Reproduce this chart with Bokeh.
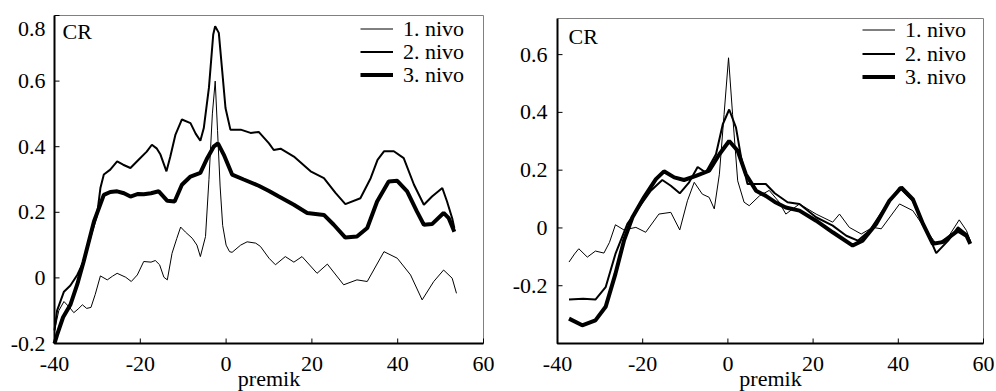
from bokeh.plotting import figure
from bokeh.layouts import row
from bokeh.models import Range1d, Legend, LegendItem, Label
from bokeh.embed import file_html
from bokeh.resources import INLINE

FONT = "Liberation Serif"
FS = "22px"

series_names = ["1. nivo", "2. nivo", "3. nivo"]
line_widths = [1, 2, 4]

x_ticks = [-40, -20, 0, 20, 40, 60]
left_y_ticks = [-0.2, 0, 0.2, 0.4, 0.6, 0.8]
right_y_ticks = [-0.2, 0, 0.2, 0.4, 0.6]
x_title = "premik"
panel_tag = "CR"

# ---------------- left panel data ----------------
left_x1 = [-40, -39, -37.8, -36.5, -35.5, -34.5, -33.5, -32.5, -31.5, -30.5, -29.3, -27.7, -26.5,
           -25.4, -23.4, -22.1, -20.7, -19.2, -17.5, -16.5, -15.5, -14.5, -13.7, -12.6, -11.5,
           -10.6, -9.5, -7.9, -6.8, -6.0, -4.8, -4.0, -3.2, -2.54, -2.0, -1.4, -0.8, 0.0, 0.8, 1.4,
           3.4, 4.9, 6.9, 8.0, 10, 11.5, 13.8, 15.8, 17.7, 21.2, 23.6, 27.4, 30.5, 32.9, 36.8,
           39.9, 43, 45.7, 48.4, 50.7, 52.7, 53.7]
left_y1 = [-0.16, -0.10, -0.072, -0.09, -0.106, -0.095, -0.082, -0.093, -0.09, -0.05, 0.006, -0.006, 0.005,
           0.014, 0.002, -0.011, 0.009, 0.05, 0.048, 0.053, 0.04, 0.002, -0.006, 0.075, 0.12,
           0.155, 0.14, 0.121, 0.10, 0.065, 0.126, 0.30, 0.50, 0.60, 0.45, 0.28, 0.16, 0.10, 0.08, 0.078,
           0.10, 0.11, 0.106, 0.096, 0.06, 0.04, 0.065, 0.048, 0.065, 0.014, 0.042, -0.021, -0.006, -0.011, 0.08,
           0.06, 0.009, -0.067, -0.011, 0.024, -0.001, -0.047]

left_x2 = [-40, -39.4, -37.8, -36.3, -34.7, -33.2, -31.5, -30.1, -29.3, -28.5, -27.0, -25.4, -24.0,
           -22.3, -20.4, -18.5, -17.3, -16.2, -15.3, -13.9, -13.0, -11.8, -10.3, -8.3, -7.1, -6.0,
           -5.2, -4.0, -3.0, -2.55, -1.7, -0.9, -0.14, 1.0, 3.4, 5.7, 7.6, 10, 11.1, 12.7, 15.8,
           19.7, 22.8, 25.5, 27.8, 31.3, 33.7, 35.3, 36.8, 39.1, 41.4, 43.8, 46.1, 48.0, 50.4,
           51.5, 52.7, 53.2]
left_y2 = [-0.16, -0.10, -0.042, -0.023, 0.009, 0.05, 0.13, 0.19, 0.274, 0.315, 0.33, 0.355, 0.345,
           0.335, 0.36, 0.385, 0.406, 0.395, 0.376, 0.325, 0.37, 0.437, 0.483, 0.472, 0.44, 0.418,
           0.457, 0.58, 0.742, 0.767, 0.747, 0.63, 0.518, 0.452, 0.452, 0.442, 0.445, 0.41, 0.39, 0.394, 0.37,
           0.325, 0.304, 0.259, 0.225, 0.243, 0.304, 0.36, 0.386, 0.386, 0.365, 0.284, 0.223, 0.248, 0.274,
           0.233, 0.182, 0.152]

left_x3 = [-40, -39.4, -38.0, -36.3, -34.7, -33.2, -30.8, -28.5, -27.0, -25.4, -23.8, -22.3, -20.5,
           -19.2, -17.5, -15.7, -13.7, -12.0, -10.3, -8.3, -6.0, -4.4, -2.9, -1.9, -0.55, 1.4, 4.1,
           7.6, 10, 12.3, 15.8, 18.9, 22.8, 25.1, 27.8, 30.5, 32.9, 35.2, 37.9, 39.9, 42.2, 44.5,
           46.1, 48.0, 50.7, 51.9, 53.2]
left_y3 = [-0.2, -0.174, -0.12, -0.082, -0.02, 0.05, 0.172, 0.253, 0.262, 0.264, 0.258, 0.248, 0.256,
           0.255, 0.258, 0.264, 0.235, 0.233, 0.284, 0.309, 0.32, 0.365, 0.40, 0.41, 0.376, 0.315, 0.30,
           0.281, 0.265, 0.248, 0.223, 0.198, 0.192, 0.162, 0.123, 0.126, 0.152, 0.233, 0.294, 0.296, 0.264, 0.202,
           0.162, 0.164, 0.198, 0.182, 0.141]

# ---------------- right panel data ----------------
right_x1 = [-37.3, -36.0, -35.0, -33.0, -31.1, -29.1, -27.8, -26.4, -24.4, -21.6, -19.3, -16.2, -13.4,
            -11.3, -9.5, -7.9, -6.0, -4.4, -3.2, -2.0, -0.9, 0.15, 1.1, 2.3, 3.8, 5.0, 7.4, 9.7, 12,
            13.6, 16.8, 20.7, 24.6, 26.2, 28.5, 31.3, 34, 36, 40.3, 43.4, 46.6, 48.9, 51.7, 54.3,
            56, 56.9]
right_y1 = [-0.118, -0.09, -0.072, -0.101, -0.080, -0.087, -0.05, 0.011, -0.007, 0.002, -0.015, 0.048, 0.054,
            -0.007, 0.094, 0.158, 0.117, 0.106, 0.066, 0.186, 0.393, 0.589, 0.393, 0.163, 0.089, 0.077, 0.111, 0.13, 0.09,
            0.048, 0.083, 0.048, 0.02, 0.048, 0.002, -0.021, 0.002, -0.003, 0.083, 0.06, -0.009, -0.055, -0.032, 0.028,
            -0.009, -0.044]

right_x2 = [-37.3, -34, -31.1, -28.7, -26.4, -23.6, -20.9, -18.1, -15.4, -13.4, -11.3, -9.1, -7.1,
            -5.2, -2.8, -1.2, 0.3, 1.9, 3.1, 4.6, 7.4, 8.9, 11, 14, 16.8, 20.7, 24.6, 27.8, 30.5,
            33.3, 36.4, 40.3, 43.4, 46.6, 48.9, 51.7, 54, 56, 56.9]
right_y2 = [-0.248, -0.245, -0.248, -0.205, -0.09, 0.014, 0.071, 0.129, 0.166, 0.146, 0.12, 0.158, 0.211,
            0.192, 0.255, 0.359, 0.41, 0.347, 0.244, 0.152, 0.152, 0.152, 0.12, 0.089, 0.083, 0.037, 0.008, -0.027, -0.044,
            -0.009, 0.06, 0.14, 0.094, -0.009, -0.087, -0.044, 0.002, -0.021, -0.049]

right_x3 = [-37.3, -34.2, -31.1, -28.7, -26.4, -24.4, -22.4, -19.7, -16.9, -15.0, -12.6, -10.3, -7.5,
            -4.4, -2.0, 0.3, 2.3, 4.2, 6.6, 8.9, 11, 13.6, 16.8, 20.7, 24.6, 29.3, 31.6, 34.8, 37.9,
            40.7, 43.4, 45.8, 48.1, 50.4, 54, 56, 56.9]
right_y3 = [-0.314, -0.337, -0.32, -0.273, -0.159, -0.044, 0.037, 0.106, 0.169, 0.196, 0.175, 0.166, 0.18,
            0.198, 0.255, 0.301, 0.267, 0.186, 0.129, 0.111, 0.09, 0.071, 0.06, 0.025, -0.015, -0.061, -0.044, 0.014, 0.094,
            0.14, 0.1, 0.014, -0.055, -0.049, -0.009, -0.027, -0.055]


def fmt(v):
    return "%g" % v


def add_text(p, x, y, text, align, baseline, dx=0, dy=0):
    # dy: positive = upward (annotation convention)
    p.add_layout(Label(x=x, y=y, text=text, text_align=align, text_baseline=baseline,
                       x_offset=dx, y_offset=dy, text_font=FONT, text_font_size=FS,
                       text_color="black"))


def make_panel(xs, ys, xlim, ylim, yticks, width, height, box, legend_x, legend_rows,
               cr_off, ylab_gap, top_label_drop=0):
    # box = (left_px, right_px, top_px, bottom_px) of the plot box inside this figure
    bl, br, bt, bb = box
    xs_px = (br - bl) / (xlim[1] - xlim[0])
    ys_px = (bb - bt) / (ylim[1] - ylim[0])
    x_range = Range1d(xlim[0] - bl / xs_px, xlim[1] + (width - br) / xs_px)
    y_range = Range1d(ylim[0] - (height - bb) / ys_px, ylim[1] + bt / ys_px)

    p = figure(width=width, height=height, output_backend="svg", toolbar_location=None,
               x_range=x_range, y_range=y_range,
               min_border_left=0, min_border_right=0, min_border_top=0, min_border_bottom=0)
    p.xaxis.visible = False
    p.yaxis.visible = False
    p.grid.visible = False
    p.outline_line_color = None
    p.background_fill_color = "white"
    p.border_fill_color = "white"

    x0, x1 = xlim
    y0, y1 = ylim
    # plot box: light top/right frame, black left/bottom axes
    p.line([x0, x1, x1], [y1, y1, y0], line_color="#808080", line_width=1)
    p.line([x0, x0, x1], [y1, y0, y0], line_color="black", line_width=2)

    # inward ticks
    tick_len = 5
    p.segment(x0=x_ticks, y0=[y0] * len(x_ticks), x1=x_ticks,
              y1=[y0 + tick_len / ys_px] * len(x_ticks), line_color="black", line_width=1)
    p.segment(x0=[x0] * len(yticks), y0=yticks, x1=[x0 + tick_len / xs_px] * len(yticks),
              y1=yticks, line_color="black", line_width=1)

    # tick labels
    for t in x_ticks:
        add_text(p, t, y0, fmt(t), "center", "middle", dy=-20)
    for i, t in enumerate(yticks):
        drop = top_label_drop if (top_label_drop and i == len(yticks) - 1) else 0
        add_text(p, x0, t, fmt(t), "right", "middle", dx=-ylab_gap, dy=-drop)
    # axis title and panel tag
    add_text(p, (x0 + x1) / 2, y0, x_title, "center", "middle", dy=-35)
    add_text(p, x0, y1, panel_tag, "left", "top", dx=cr_off[0], dy=cr_off[1])

    row_h = 19  # effective height of one legend row
    for xv, yv, nm, lw, rc in zip(xs, ys, series_names, line_widths, legend_rows):
        r = p.line(xv, yv, line_color="black", line_width=lw)
        lg = Legend(items=[LegendItem(label=nm, renderers=[r])],
                    location=(legend_x, height - rc - row_h / 2))
        lg.border_line_color = None
        lg.background_fill_alpha = 0
        lg.label_text_font = FONT
        lg.label_text_font_size = FS
        lg.label_text_color = "black"
        lg.glyph_width = 33
        lg.glyph_height = 23
        lg.label_height = 23
        lg.label_standoff = 10
        lg.spacing = 0
        lg.padding = 0
        lg.margin = 0
        p.add_layout(lg)
    return p


p1 = make_panel([left_x1, left_x2, left_x3], [left_y1, left_y2, left_y3],
                (-40, 60), (-0.2, 0.8), left_y_ticks, width=497, height=391,
                box=(54, 483, 15, 343), legend_x=360, legend_rows=[32, 55, 78],
                cr_off=(8, -3), ylab_gap=9, top_label_drop=13)
p2 = make_panel([right_x1, right_x2, right_x3], [right_y1, right_y2, right_y3],
                (-40, 60), (-0.4, 0.725), right_y_ticks, width=499, height=391,
                box=(60, 486, 18, 343), legend_x=365, legend_rows=[33, 57, 80],
                cr_off=(11, -5), ylab_gap=10)

layout = row(p1, p2)
open("out.html", "w").write(file_html(layout, INLINE))
